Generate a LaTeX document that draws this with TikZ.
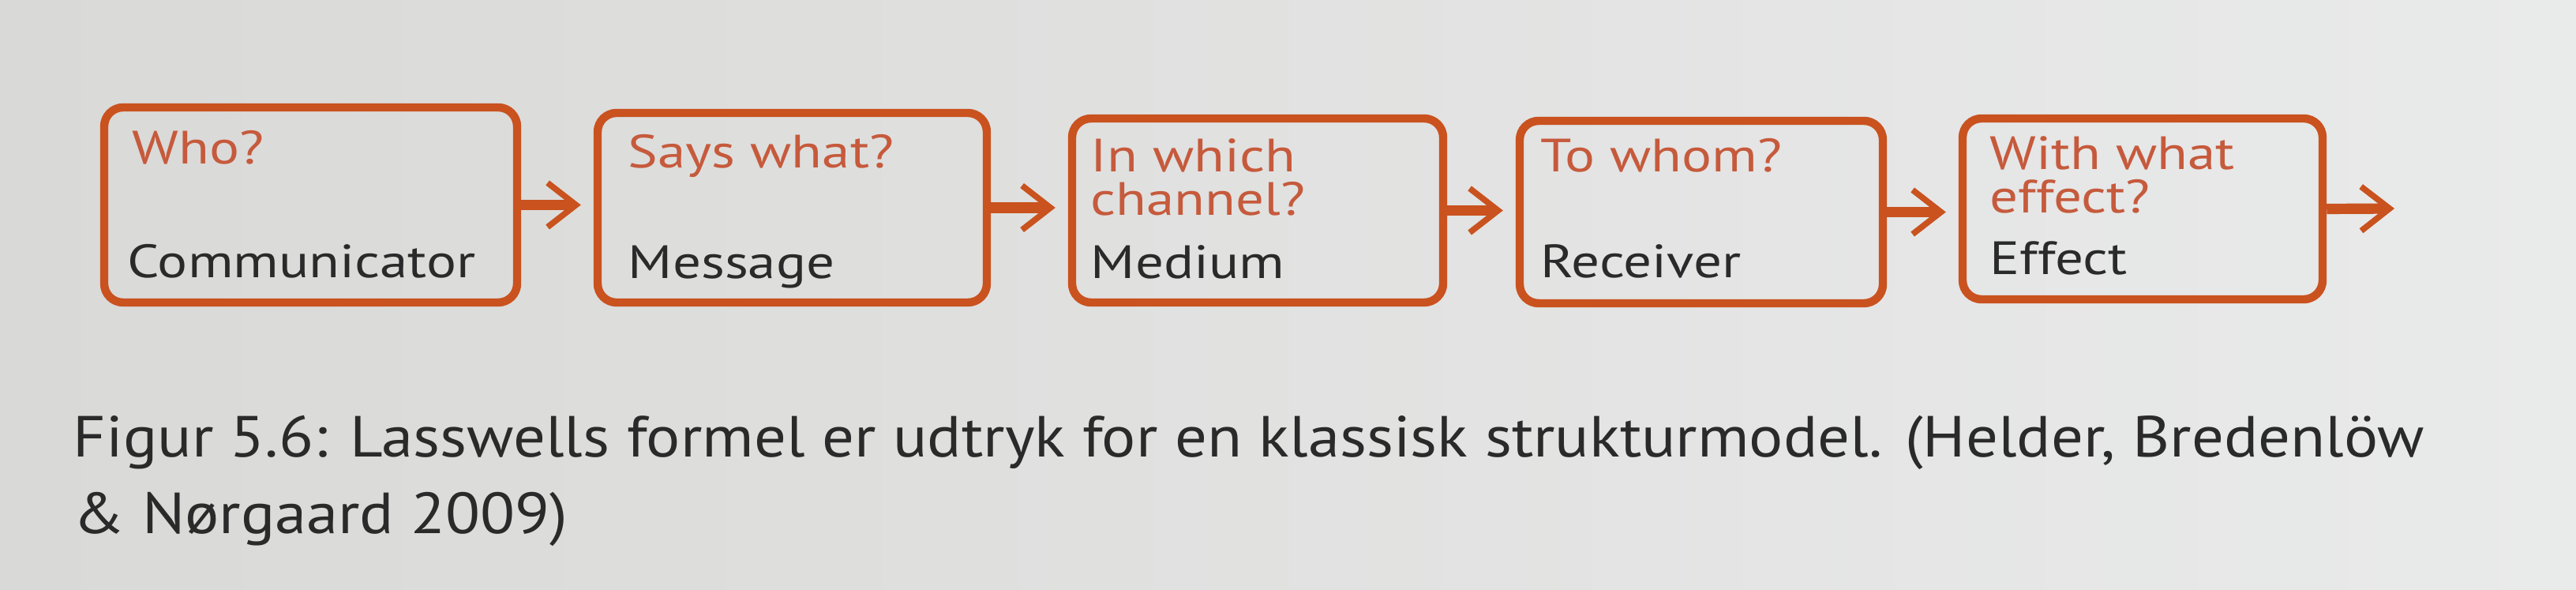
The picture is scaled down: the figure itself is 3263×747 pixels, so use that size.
\documentclass[tikz,border=0pt]{standalone}
\usepackage{fontspec}
\setmainfont[FakeStretch=1.1]{PT Sans}
\newfontfamily\lassboxfont[FakeStretch=1.2]{PT Sans}
\usetikzlibrary{arrows.meta,fit}
\definecolor{lassorange}{HTML}{C9521F}
\definecolor{lasstitle}{HTML}{C65A3C}
\definecolor{lassink}{HTML}{2A2A2A}
\definecolor{paperL}{HTML}{D9D9D7}
\definecolor{paperR}{HTML}{E9EAEA}
\begin{document}
\begin{tikzpicture}[x=0.25pt,y=-0.25pt,
  box/.style={draw=lassorange, line width=2.6pt, rounded corners=6pt, inner sep=0pt},
  title/.style={anchor=base west, inner sep=0pt, text=lasstitle, font=\lassboxfont\fontsize{14.8}{13.75}\selectfont, align=left},
  role/.style={anchor=base west, inner sep=0pt, text=lassink, font=\lassboxfont\fontsize{14.8}{14}\selectfont},
  flow/.style={draw=lassorange, line width=3.3pt, -{Straight Barb[length=9pt,width=14pt,line width=1.9pt]}},
  caption/.style={anchor=base west, inner sep=0pt, text=lassink, font=\fontsize{18.35}{24.25}\selectfont, align=left}]
\shade[left color=paperL, right color=paperR] (0,0) rectangle (3263,747);
\useasboundingbox (0,0) rectangle (3263,747);

\node[box, fit={(132,136)(655,383)}] (b1) {};
\node[box, fit={(757,143)(1250,383)}] (b2) {};
\node[box, fit={(1358,150)(1828,383)}] (b3) {};
\node[box, fit={(1925,153)(2385,384)}] (b4) {};
\node[box, fit={(2486,150)(2942,379)}] (b5) {};

\draw[flow] (b1.east) -- ([xshift=-4pt]b1.east -| b2.west);
\draw[flow] (b2.east) -- ([xshift=-4pt]b2.east -| b3.west);
\draw[flow] (b3.east) -- ([xshift=-4pt]b3.east -| b4.west);
\draw[flow] (b4.east) -- ([xshift=-4pt]b4.east -| b5.west);
\coordinate (out) at (3033,264);
\draw[flow] (b5.east) -- (out);

\node[title] (q1) at (167,208) {Who?};
\node[role]  (r1) at (161,352) {Communicator};
\node[title] (q2) at (795,213) {Says what?};
\node[role]  (r2) at (795,353) {Message};
\node[title] (q3) at (1381,273) {In which\\channel?};
\node[role]  (r3) at (1381,353) {Medium};
\node[title] (q4) at (1951,218) {To whom?};
\node[role]  (r4) at (1951,352) {Receiver};
\node[title] (q5) at (2520,270) {With what\\effect?};
\node[role]  (r5) at (2520,348) {Effect};

\node[caption] (cap) at (92,675) {Figur 5.6: Lasswells formel er udtryk for en klassisk strukturmodel. (Helder, Bredenlöw\\\& Nørgaard 2009)};
\end{tikzpicture}
\end{document}
